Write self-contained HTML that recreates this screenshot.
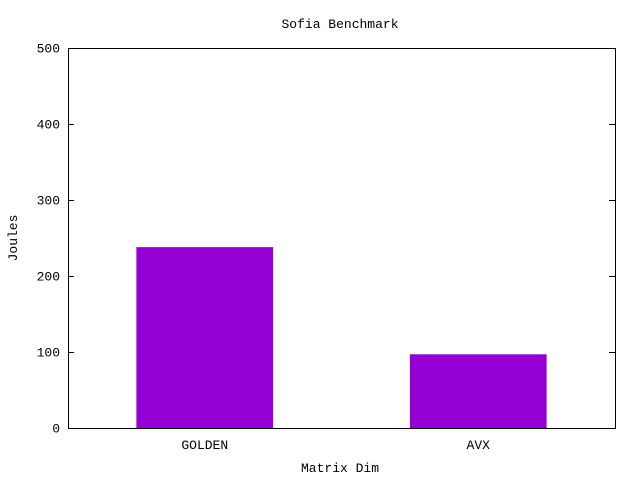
<!DOCTYPE html>
<html><head><meta charset="utf-8"><style>
html,body{margin:0;padding:0;background:#fff;}
svg text{font-family:"Liberation Mono",monospace;font-size:13px;fill:#000;}
</style></head><body>
<svg id="chart" width="640" height="480" xmlns="http://www.w3.org/2000/svg">
<rect width="640" height="480" fill="#fff"/>
<text x="340" y="28" text-anchor="middle">Sofia Benchmark</text>
<text x="340" y="472" text-anchor="middle">Matrix Dim</text>
<text transform="translate(17,238) rotate(-90)" text-anchor="middle">Joules</text>
<g id="bars"></g>
<g id="ticks"></g>
<rect x="68.5" y="48.5" width="547" height="380" fill="none" stroke="#000" stroke-width="1"/>
</svg>
<script>
const categories = ["GOLDEN", "AVX"];
const values = [238, 97];
const yTicks = [0, 100, 200, 300, 400, 500];
const L=68, R=615, T=48, B=428, yMax=500;
const NS="http://www.w3.org/2000/svg";
function yScale(v){return B-(v/yMax)*(B-T);}
function xScale(i){return L+(i+0.5)/categories.length*(R-L);}
const bw=(R-L)/categories.length*0.5;
const bars=document.getElementById('bars'), ticks=document.getElementById('ticks');
categories.forEach((c,i)=>{
  const r=document.createElementNS(NS,'rect');
  r.setAttribute('x',xScale(i)-bw/2);
  r.setAttribute('y',yScale(values[i]));
  r.setAttribute('width',bw);
  r.setAttribute('height',B-yScale(values[i]));
  r.setAttribute('fill','#9400d3');
  
  
  bars.appendChild(r);
  const t=document.createElementNS(NS,'text');
  t.setAttribute('x',xScale(i));
  t.setAttribute('y',B+21);
  t.setAttribute('text-anchor','middle');
  t.textContent=c;
  
  
  ticks.appendChild(t);
});
yTicks.forEach(v=>{
  const y=Math.round(yScale(v))+0.5;
  const l=document.createElementNS(NS,'path');
  l.setAttribute('d',`M${L} ${y}h6M${R} ${y}h-6`);
  l.setAttribute('stroke','#000');
  
  
  ticks.appendChild(l);
  const t=document.createElementNS(NS,'text');
  t.setAttribute('x',L-8);
  t.setAttribute('y',y+4);
  t.setAttribute('text-anchor','end');
  t.textContent=v;
  
  
  ticks.appendChild(t);
});
</script>
</body></html>
